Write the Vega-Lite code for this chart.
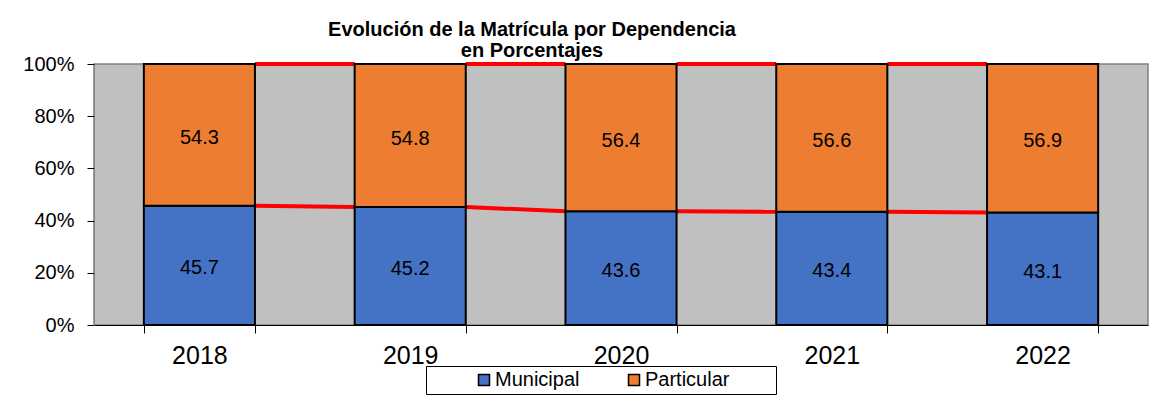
{
  "$schema": "https://vega.github.io/schema/vega-lite/v6.json",
  "width": 1054,
  "height": 261,
  "autosize": "none",
  "padding": {"left": 94, "top": 64, "right": 21, "bottom": 76},
  "background": "white",
  "title": {
    "text": ["Evolución de la Matrícula por Dependencia", "en Porcentajes"],
    "font": "Liberation Sans",
    "fontSize": 20,
    "fontWeight": "bold",
    "color": "black",
    "lineHeight": 21,
    "anchor": "middle",
    "baseline": "bottom",
    "dx": -89,
    "dy": 27,
    "offset": 0
  },
  "datasets": {
    "bars": [
      {"year": "2018", "dep": "Municipal", "value": 45.7},
      {"year": "2018", "dep": "Particular", "value": 54.3},
      {"year": "2019", "dep": "Municipal", "value": 45.2},
      {"year": "2019", "dep": "Particular", "value": 54.8},
      {"year": "2020", "dep": "Municipal", "value": 43.6},
      {"year": "2020", "dep": "Particular", "value": 56.4},
      {"year": "2021", "dep": "Municipal", "value": 43.4},
      {"year": "2021", "dep": "Particular", "value": 56.6},
      {"year": "2022", "dep": "Municipal", "value": 43.1},
      {"year": "2022", "dep": "Particular", "value": 56.9}
    ],
    "lines": [
      {"from": "2018", "to": "2019", "a": 45.7, "b": 45.2},
      {"from": "2019", "to": "2020", "a": 45.2, "b": 43.6},
      {"from": "2020", "to": "2021", "a": 43.6, "b": 43.4},
      {"from": "2021", "to": "2022", "a": 43.4, "b": 43.1},
      {"from": "2018", "to": "2019", "a": 100, "b": 100},
      {"from": "2019", "to": "2020", "a": 100, "b": 100},
      {"from": "2020", "to": "2021", "a": 100, "b": 100},
      {"from": "2021", "to": "2022", "a": 100, "b": 100}
    ]
  },
  "layer": [
    {
      "data": {"name": "lines"},
      "mark": {"type": "rule", "color": "#FF0000", "strokeWidth": 4},
      "encoding": {
        "x": {"field": "from", "type": "ordinal", "bandPosition": 1},
        "x2": {"field": "to", "bandPosition": 0},
        "y": {"field": "a", "type": "quantitative"},
        "y2": {"field": "b"}
      }
    },
    {
      "data": {"name": "bars"},
      "mark": {"type": "bar", "stroke": "black", "strokeWidth": 2},
      "encoding": {
        "x": {"field": "year", "type": "ordinal"},
        "y": {"field": "value", "type": "quantitative", "stack": "zero"},
        "order": {"field": "dep", "sort": "ascending"},
        "color": {
          "field": "dep",
          "type": "nominal",
          "scale": {"domain": ["Municipal", "Particular"], "range": ["#4472C4", "#ED7D31"]},
          "legend": {
            "orient": "none",
            "legendX": 332,
            "legendY": 302,
            "direction": "horizontal",
            "title": " ",
            "titleOrient": "right",
            "titlePadding": 43,
            "titleFontSize": 20,
            "fillColor": "white",
            "strokeColor": "black",
            "padding": 4,
            "symbolOffset": 44,
            "symbolType": "square",
            "symbolSize": 121,
            "symbolStrokeColor": "black",
            "symbolStrokeWidth": 1.5,
            "symbolOpacity": 1,
            "labelFont": "Liberation Sans",
            "labelFontSize": 20,
            "labelColor": "black",
            "labelOffset": 1,
            "columnPadding": 0
          }
        }
      }
    },
    {
      "data": {"name": "bars"},
      "mark": {"type": "text", "font": "Liberation Sans", "fontSize": 20, "color": "black", "baseline": "middle", "dy": 3},
      "encoding": {
        "x": {"field": "year", "type": "ordinal"},
        "y": {"field": "value", "type": "quantitative", "stack": "zero", "bandPosition": 0.5},
        "order": {"field": "dep", "sort": "ascending"},
        "detail": {"field": "dep"},
        "text": {"field": "value", "type": "quantitative", "format": ".1f"}
      }
    }
  ],
  "resolve": {"scale": {"x": "shared", "y": "shared"}},
  "encoding": {},
  "config": {
    "view": {"fill": "#C0C0C0", "stroke": "#808080", "strokeWidth": 1.5},
    "scale": {"bandPaddingInner": 0.473, "bandPaddingOuter": 0.2365},
    "axisX": {
      "title": null,
      "labelAngle": 0,
      "labelFont": "Liberation Sans",
      "labelFontSize": 25,
      "labelColor": "black",
      "labelPadding": 10,
      "tickBand": "extent",
      "tickSize": 8,
      "tickColor": "black",
      "domainColor": "black",
      "domainWidth": 1
    },
    "axisY": {
      "title": null,
      "grid": false,
      "labelFont": "Liberation Sans",
      "labelFontSize": 20,
      "labelColor": "black",
      "labelPadding": 13,
      "tickSize": 7,
      "tickColor": "black",
      "domainColor": "#808080",
      "values": [0, 20, 40, 60, 80, 100],
      "labelExpr": "datum.value + '%'"
    }
  }
}
